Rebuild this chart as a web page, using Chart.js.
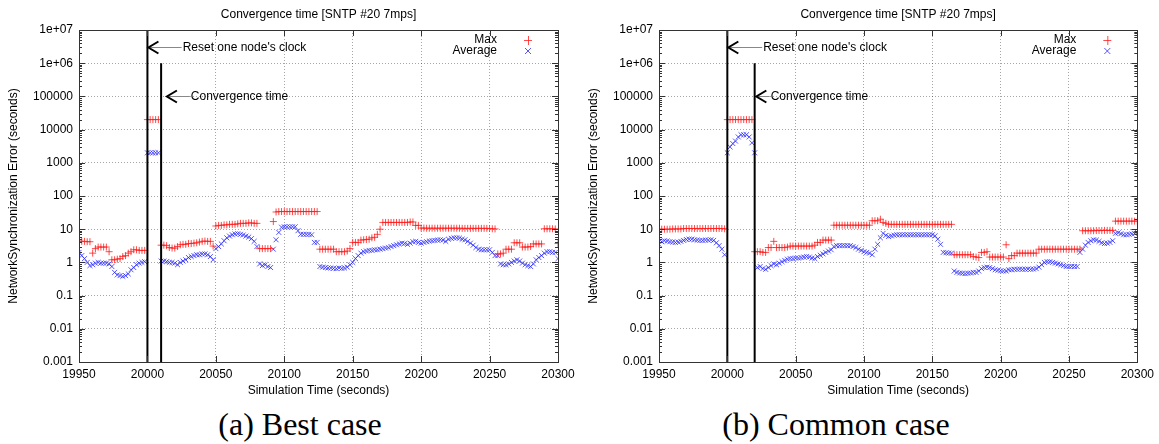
<!DOCTYPE html>
<html>
<head>
<meta charset="utf-8">
<script src="https://cdn.jsdelivr.net/npm/chart.js@4.4.1/dist/chart.umd.min.js"></script>
<style>
    body { margin: 0; background: #fff; width: 1159px; height: 444px; position: relative; overflow: hidden; }
    canvas { position: absolute; top: 0; }
    #bestChart { left: 0; }
    #commonChart { left: 580px; }
    .caption { position: absolute; top: 404px; font-family: "Liberation Serif", "Times New Roman", serif; font-size: 32px; line-height: 40px; transform: translateX(-50%); white-space: nowrap; color: #000; }
</style>
</head>
<body>
<canvas id="bestChart" width="580" height="400"></canvas>
<canvas id="commonChart" width="579" height="400"></canvas>
<div class="caption" style="left:300px">(a) Best case</div>
<div class="caption" style="left:836px">(b) Common case</div>
<script>
'use strict';

// sampling grid of the simulation (seconds)
const timeStart = 19950;
const timeStep = 2;

const xTickValues = [19950, 20000, 20050, 20100, 20150, 20200, 20250, 20300];
const yTickValues = [0.001, 0.01, 0.1, 1, 10, 100, 1000, 10000, 100000, 1000000, 10000000];
const yTickLabels = ['0.001', '0.01', '0.1', '1', '10', '100', '1000', '10000', '100000', '1e+06', '1e+07'];

// (a) best case
const bestMax = [
    4.4, 4.3, 4.3, 4.2, 4.2, 1.9, 2.6, 2.9, 2.9, 2.9,
    2.9, 2.1, 1.2, 1.2, 1.25, 1.3, 1.5, 1.6, 1.9, 2.1,
    2.4, 2.4, 2.3, 2.3, 2.3, 20000, 20000, 20000, 20000, 20000,
    3.3, 3.3, 3.2, 2.8, 2.7, 2.7, 3.0, 3.4, 3.5, 3.5,
    3.7, 3.7, 3.8, 3.9, 4.1, 4.3, 4.4, 4.3, 4.3, 3.1,
    12.5, 13, 13, 13.5, 13.5, 14, 14, 14, 14.5, 15,
    15, 15, 15.5, 15.5, 15, 15, 2.6, 2.6, 2.6, 2.6,
    2.6, 17, 33, 34, 34, 34, 34, 34, 34, 34,
    34, 34, 34, 34, 34, 34, 34, 34, 2.5, 2.5,
    2.5, 2.5, 2.5, 2.5, 2.1, 2.1, 2.1, 2.1, 2.2, 2.6,
    4.0, 4.0, 4.0, 4.7, 4.8, 4.9, 5.0, 5.5, 5.7, 7,
    10, 16, 16, 16, 16, 16, 16, 16, 16, 16,
    16, 16.5, 16.5, 13, 13, 10.8, 10.8, 10.7, 10.7, 10.7,
    10.7, 10.7, 10.7, 10.7, 10.7, 10.7, 10.7, 10.7, 10.7, 10.7,
    10.6, 10.6, 10.6, 10.6, 10.6, 10.6, 10.6, 10.6, 10.6, 10.6,
    10.5, 10.3, 10.2, 1.8, 1.8, 1.9, 2.5, 2.5, 2.5, 3.9,
    3.9, 3.9, 2.9, 2.9, 2.9, 3.0, 3.6, 3.6, 3.6, 3.6,
    10.3, 10.3, 10.3, 10.3, 10.2, 3.7
];
const bestAvg = [
    2.0, 1.6, 1.3, 1.0, 0.8, 0.85, 0.95, 1.0, 0.95, 0.95,
    0.95, 0.9, 0.75, 0.5, 0.42, 0.4, 0.38, 0.4, 0.45, 0.6,
    0.7, 0.85, 0.95, 1.0, 1.05, 2000, 2000, 2000, 2000, 2000,
    1.1, 1.1, 1.05, 1.0, 1.0, 0.95, 0.85, 1.0, 1.1, 1.2,
    1.4, 1.5, 1.6, 1.7, 1.7, 1.8, 1.8, 1.7, 1.5, 1.2,
    2.6, 3.0, 3.6, 4.5, 5.5, 6.2, 6.8, 7.2, 7.3, 7.0,
    6.7, 6.2, 5.8, 5.2, 4.3, 3.0, 0.9, 0.8, 0.85, 0.75,
    0.7, 2.5, 4.8, 8, 11.5, 11.8, 11.8, 11.8, 11.8, 11.8,
    9, 7, 7, 7, 7, 6.8, 4, 4, 0.75, 0.72,
    0.7, 0.68, 0.68, 0.66, 0.65, 0.68, 0.66, 0.68, 0.72, 0.85,
    1.0, 1.3, 1.6, 1.9, 2.1, 2.2, 2.3, 2.3, 2.4, 2.4,
    2.5, 2.6, 2.7, 2.8, 3.0, 3.2, 3.4, 3.6, 3.8, 3.7,
    3.5, 3.8, 4.2, 4.3, 4.0, 3.8, 4.0, 4.2, 4.4, 4.5,
    4.6, 4.7, 4.8, 4.7, 4.3, 5.0, 5.3, 5.5, 5.5, 5.4,
    5.0, 4.8, 4.3, 3.8, 3.3, 2.8, 2.5, 2.4, 2.4, 2.4,
    2.4, 2.0, 1.6, 1.6, 0.9, 0.85, 0.85, 0.9, 1.0, 1.1,
    1.2, 1.1, 0.95, 0.85, 0.8, 0.75, 0.9, 1.2, 1.4, 1.6,
    1.9, 2.1, 2.1, 2.0, 2.0, 1.3
];

// (b) common case
const commonMax = [
    10.0, 10.0, 10.0, 10.0, 10.0, 10.2, 10.2, 10.2, 10.2, 10.5,
    10.5, 10.5, 10.5, 10.5, 10.5, 10.5, 10.5, 10.5, 10.5, 10.5,
    10.5, 10.5, 10.5, 10.5, 10.3, 20000, 20000, 20000, 20000, 20000,
    20000, 20000, 20000, 20000, 20000, 2.1, 2.1, 2.1, 2.0, 2.0,
    2.8, 2.8, 4.3, 2.8, 2.8, 2.8, 2.8, 2.9, 3.1, 3.1,
    3.1, 3.1, 3.1, 3.1, 3.1, 3.1, 3.1, 3.3, 4.0, 4.0,
    4.7, 4.7, 4.7, 4.7, 13.2, 13.2, 13.2, 13.2, 13.2, 13.2,
    13.2, 13.2, 13.2, 13.2, 13.2, 13.2, 13.2, 13.2, 18, 18,
    18, 20, 16, 15, 14, 14, 14, 14, 14, 14,
    14, 14, 14, 14, 14, 14, 14, 14, 14, 14,
    14, 14, 14, 14, 14, 14, 14, 14, 1.7, 1.7,
    1.7, 1.7, 1.7, 1.7, 1.7, 1.5, 1.45, 1.4, 2.0, 2.0,
    2.1, 1.45, 1.45, 1.45, 1.45, 1.45, 1.45, 3.4, 1.3, 1.6,
    1.6, 1.9, 1.9, 1.9, 1.9, 1.9, 1.9, 1.9, 1.9, 2.5,
    2.5, 2.5, 2.5, 2.5, 2.5, 2.5, 2.5, 2.5, 2.5, 2.5,
    2.5, 2.5, 2.5, 2.5, 2.5, 9.0, 9.0, 9.0, 9.0, 9.0,
    9.1, 9.1, 9.1, 9.2, 9.2, 9.2, 9.2, 17.5, 17.5, 17.5,
    17.5, 17.5, 17.5, 17.5, 17.5, 17.5
];
const commonAvg = [
    3.5, 4.2, 4.5, 4.4, 4.2, 4.1, 4.0, 4.1, 4.3, 4.6,
    4.9, 5.0, 5.0, 4.8, 4.7, 4.6, 4.6, 4.7, 4.7, 4.8,
    4.6, 3.9, 3.2, 2.5, 1.7, 2000, 3000, 3800, 4500, 6000,
    7000, 7000, 7000, 6000, 4000, 2000, 0.7, 0.75, 0.65, 0.62,
    0.7, 0.8, 0.9, 0.85, 0.95, 1.05, 1.15, 1.25, 1.3, 1.3,
    1.35, 1.35, 1.4, 1.45, 1.5, 1.45, 1.35, 1.3, 1.5, 1.65,
    1.8, 2.0, 2.2, 2.4, 3.0, 3.2, 3.2, 3.2, 3.2, 3.2,
    3.2, 3.0, 2.8, 2.5, 2.3, 2.1, 2.0, 1.9, 1.7, 2.5,
    3.5, 5.5, 7.5, 6.5, 6.0, 6.3, 6.6, 6.8, 6.8, 6.8,
    6.8, 6.8, 6.8, 6.8, 6.8, 6.8, 6.8, 6.8, 6.8, 6.8,
    6.8, 6.3, 5.0, 3.5, 2.0, 1.95, 1.9, 1.9, 0.55, 0.5,
    0.48, 0.47, 0.46, 0.47, 0.48, 0.5, 0.5, 0.55, 0.65, 0.7,
    0.72, 0.7, 0.65, 0.6, 0.58, 0.56, 0.55, 0.55, 0.6, 0.6,
    0.62, 0.62, 0.63, 0.62, 0.62, 0.63, 0.62, 0.63, 0.65, 0.72,
    0.85, 1.0, 1.05, 1.05, 1.0, 0.95, 0.9, 0.85, 0.8, 0.75,
    0.75, 0.76, 0.75, 0.75, 2.0, 2.5, 3.3, 4.0, 4.5, 4.8,
    4.7, 4.3, 3.9, 3.7, 3.8, 4.0, 4.5, 7.5, 7.8, 7.3,
    6.8, 6.8, 7.0, 7.2, 7.5, 8.0
];

// event markers
const resetTime = 20000;
const bestConvTime = 20010;
const commonConvTime = 20020;
const convLineTop = 1e6;

const fontFamily = '"Liberation Sans", Arial, Helvetica, sans-serif';
Chart.defaults.font.family = fontFamily;
Chart.defaults.font.size = 12;
Chart.defaults.color = '#000';

const maxColor = 'rgba(255, 30, 30, 0.8)';
const avgColor = 'rgba(30, 30, 255, 0.75)';

let times = bestMax.map((v, i) => timeStart + i * timeStep);

let toPoints = function (vals) {
    return vals.map((v, i) => ({ x: times[i], y: v }));
};

let framePlugin = {
    id: 'frame',
    afterDraw: function (chart, args, opts) {
        let ctx = chart.ctx;
        let a = chart.chartArea;
        let xs = chart.scales.x;
        let ys = chart.scales.y;
        ctx.save();

        // inward ticks, mirrored on top/right like gnuplot
        ctx.strokeStyle = '#333';
        ctx.lineWidth = 1;
        ctx.beginPath();
        xTickValues.forEach(v => {
            let px = Math.round(xs.getPixelForValue(v)) + 0.5;
            ctx.moveTo(px, a.bottom); ctx.lineTo(px, a.bottom - 6);
            ctx.moveTo(px, a.top); ctx.lineTo(px, a.top + 6);
        });
        yTickValues.forEach((v, i) => {
            let py = Math.round(ys.getPixelForValue(v)) + 0.5;
            ctx.moveTo(a.left, py); ctx.lineTo(a.left + 6, py);
            ctx.moveTo(a.right, py); ctx.lineTo(a.right - 6, py);
            if (i < yTickValues.length - 1) {
                for (let m = 2; m <= 9; m++) {
                    let pm = Math.round(ys.getPixelForValue(v * m)) + 0.5;
                    ctx.moveTo(a.left, pm); ctx.lineTo(a.left + 3, pm);
                    ctx.moveTo(a.right, pm); ctx.lineTo(a.right - 3, pm);
                }
            }
        });
        ctx.stroke();
        ctx.strokeRect(Math.round(a.left) + 0.5, Math.round(a.top) + 0.5, Math.round(a.right - a.left), Math.round(a.bottom - a.top));

        // title
        ctx.fillStyle = '#000';
        ctx.font = '12px ' + fontFamily;
        ctx.textAlign = 'center';
        ctx.textBaseline = 'middle';
        ctx.fillText(opts.title, (a.left + a.right) / 2, 15);

        // arrows with labels
        opts.arrows.forEach(ar => {
            let tip = xs.getPixelForValue(ar.tip);
            let end = xs.getPixelForValue(ar.end);
            let py = Math.round(ys.getPixelForValue(ar.y)) + 0.5;
            ctx.strokeStyle = '#888';
            ctx.lineWidth = 1;
            ctx.beginPath();
            ctx.moveTo(tip, py); ctx.lineTo(end, py);
            ctx.stroke();
            ctx.strokeStyle = '#000';
            ctx.lineWidth = 2;
            ctx.beginPath();
            ctx.moveTo(tip + 11, py - 6); ctx.lineTo(tip + 1, py); ctx.lineTo(tip + 11, py + 6);
            ctx.stroke();
            ctx.textAlign = 'left';
            ctx.fillText(ar.label, end + 1, py);
        });

        // key
        ctx.textAlign = 'right';
        ctx.fillText('Max', a.right - 61, a.top + 10);
        ctx.fillText('Average', a.right - 61, a.top + 21);
        let kx = a.right - 30;
        ctx.lineWidth = 1;
        ctx.strokeStyle = maxColor;
        ctx.beginPath();
        ctx.moveTo(kx - 4, a.top + 10.5); ctx.lineTo(kx + 4, a.top + 10.5);
        ctx.moveTo(kx + 0.5, a.top + 6); ctx.lineTo(kx + 0.5, a.top + 15);
        ctx.stroke();
        ctx.strokeStyle = avgColor;
        ctx.beginPath();
        ctx.moveTo(kx - 3, a.top + 18); ctx.lineTo(kx + 3, a.top + 24);
        ctx.moveTo(kx + 3, a.top + 18); ctx.lineTo(kx - 3, a.top + 24);
        ctx.stroke();
        ctx.restore();
    }
};

let makeChart = function (canvasId, maxVals, avgVals, convTime, arrows, rightPad) {
    let ctx = document.getElementById(canvasId).getContext('2d');
    return new Chart(ctx, {
        type: 'scatter',
        data: {
            datasets: [{
                type: 'line',
                data: [{ x: resetTime, y: yTickValues[yTickValues.length - 1] }, { x: resetTime, y: yTickValues[0] }],
                borderColor: '#000',
                borderWidth: 2,
                pointRadius: 0,
                showLine: true
            }, {
                type: 'line',
                data: [{ x: convTime, y: convLineTop }, { x: convTime, y: yTickValues[0] }],
                borderColor: '#000',
                borderWidth: 2,
                pointRadius: 0,
                showLine: true
            }, {
                label: 'Max',
                data: toPoints(maxVals),
                pointStyle: 'cross',
                pointRadius: 3.5,
                borderWidth: 1,
                borderColor: maxColor,
                backgroundColor: maxColor
            }, {
                label: 'Average',
                data: toPoints(avgVals),
                pointStyle: 'crossRot',
                pointRadius: 3.5,
                borderWidth: 1,
                borderColor: avgColor,
                backgroundColor: avgColor
            }]
        },
        options: {
            responsive: false,
            animation: false,
            devicePixelRatio: 1,
            layout: { padding: { left: 0, right: rightPad, top: 30, bottom: 0 } },
            plugins: {
                legend: { display: false },
                tooltip: { enabled: false },
                frame: {
                    title: 'Convergence time [SNTP #20 7mps]',
                    arrows: arrows
                }
            },
            scales: {
                x: {
                    type: 'linear',
                    min: xTickValues[0],
                    max: xTickValues[xTickValues.length - 1],
                    afterBuildTicks: function (scale) {
                        scale.ticks = xTickValues.map(v => ({ value: v }));
                    },
                    afterFit: function (scale) { scale.height = 38; },
                    ticks: {
                        padding: 5,
                        maxRotation: 0,
                        callback: function (v) { return String(v); }
                    },
                    grid: { color: 'rgba(0,0,0,0.35)', drawTicks: false, tickLength: 0 },
                    border: { display: false, dash: [1, 2] },
                    title: { display: true, text: 'Simulation Time (seconds)', padding: { top: 0, bottom: 2 } }
                },
                y: {
                    type: 'logarithmic',
                    min: yTickValues[0],
                    max: yTickValues[yTickValues.length - 1],
                    afterBuildTicks: function (scale) {
                        scale.ticks = yTickValues.map(v => ({ value: v }));
                    },
                    afterFit: function (scale) { scale.width = 79; },
                    ticks: {
                        padding: 6,
                        callback: function (v) {
                            let idx = yTickValues.indexOf(v);
                            return idx >= 0 ? yTickLabels[idx] : '';
                        }
                    },
                    grid: { color: 'rgba(0,0,0,0.35)', drawTicks: false, tickLength: 0 },
                    border: { display: false, dash: [1, 2] },
                    title: { display: true, text: 'NetworkSynchronization Error (seconds)', padding: { top: 6, bottom: 0 } }
                }
            }
        },
        plugins: [framePlugin]
    });
};

makeChart('bestChart', bestMax, bestAvg, bestConvTime, [
    { tip: resetTime, end: 20025, y: 3e6, label: "Reset one node's clock" },
    { tip: 20013.5, end: 20031, y: 1e5, label: 'Convergence time' }
], 22);

makeChart('commonChart', commonMax, commonAvg, commonConvTime, [
    { tip: resetTime, end: 20025.5, y: 3e6, label: "Reset one node's clock" },
    { tip: 20020.5, end: 20031, y: 1e5, label: 'Convergence time' }
], 21);
</script>
</body>
</html>
